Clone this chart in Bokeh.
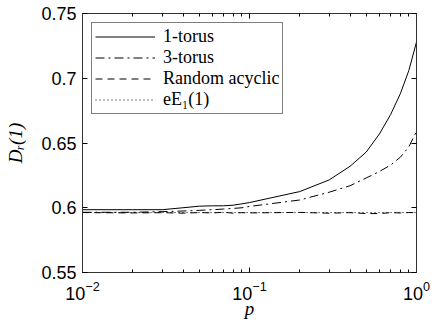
from bokeh.plotting import figure
from bokeh.models import (LogAxis, LinearAxis, FixedTicker, Legend, LegendItem, Range1d)
from bokeh.embed import file_html
from bokeh.resources import INLINE

p_vals = [0.01, 0.02, 0.03, 0.04, 0.05, 0.06, 0.07, 0.08, 0.09,
          0.1, 0.2, 0.3, 0.4, 0.5, 0.6, 0.7, 0.8, 0.9, 1.0]
torus1 = [0.5985, 0.5985, 0.5985, 0.6000, 0.6012, 0.6015, 0.6015, 0.6020, 0.6030,
          0.6040, 0.6125, 0.6215, 0.6320, 0.6430, 0.6570, 0.6720, 0.6880, 0.7060, 0.7280]
torus3 = [0.5965, 0.5965, 0.5970, 0.5975, 0.5980, 0.5985, 0.5990, 0.5995, 0.6000,
          0.6010, 0.6060, 0.6120, 0.6170, 0.6230, 0.6280, 0.6330, 0.6390, 0.6470, 0.6590]
random_acyclic = [0.5963, 0.5960, 0.5962, 0.5958, 0.5963, 0.5960, 0.5965, 0.5958, 0.5962,
                  0.5960, 0.5964, 0.5958, 0.5962, 0.5955, 0.5955, 0.5962, 0.5960, 0.5963, 0.5962]
ee1_p = [0.01, 1.0]
ee1_val = [0.5963, 0.5963]

x_major = [0.01, 0.1, 1.0]
x_minor = [0.02, 0.03, 0.04, 0.05, 0.06, 0.07, 0.08, 0.09,
           0.2, 0.3, 0.4, 0.5, 0.6, 0.7, 0.8, 0.9]
y_ticks = [0.55, 0.6, 0.65, 0.7, 0.75]
y_tick_labels = ["0.55", "0.6", "0.65", "0.7", "0.75"]
legend_labels = ["1-torus", "3-torus", "Random acyclic", "eE\u2081(1)"]

fig = figure(width=435, height=327, x_axis_type="log", output_backend="svg",
             toolbar_location=None, x_range=Range1d(0.01, 1.0), y_range=Range1d(0.55, 0.75),
             min_border_left=82, min_border_right=19, min_border_top=13, min_border_bottom=55)
fig.grid.visible = False
fig.outline_line_color = "#333333"
fig.outline_line_width = 1
fig.background_fill_color = "white"
fig.border_fill_color = "white"

r1 = fig.line(p_vals, torus1, line_color="black", line_width=1)
r2 = fig.line(p_vals, torus3, line_color="black", line_width=1, line_dash="9 4 2 4")
r3 = fig.line(p_vals, random_acyclic, line_color="black", line_width=1, line_dash="7 5")
r4 = fig.line(ee1_p, ee1_val, line_color="black", line_width=1, line_dash="1 3")

tick_font = "Liberation Sans"
xa = fig.xaxis[0]
xa.ticker = FixedTicker(ticks=x_major, minor_ticks=x_minor)
xa.axis_label = "p"
xa.axis_label_text_font = "Liberation Serif"
xa.axis_label_text_font_style = "italic"
xa.axis_label_text_font_size = "19px"
xa.axis_label_text_color = "black"
xa.axis_label_standoff = -5
xa.major_label_text_font = tick_font
xa.major_label_text_font_size = "18px"
xa.major_label_text_color = "black"
xa.major_label_standoff = 8
xa.major_tick_in = 5
xa.major_tick_out = 0
xa.minor_tick_in = 3
xa.minor_tick_out = 0
xa.axis_line_color = "#333333"

ya = fig.yaxis[0]
ya.ticker = FixedTicker(ticks=y_ticks)
ya.major_label_overrides = {t: l for t, l in zip(y_ticks, y_tick_labels)}
ya.axis_label = "D\u1d63(1)"
ya.axis_label_text_font = "Liberation Serif"
ya.axis_label_text_font_style = "italic"
ya.axis_label_text_font_size = "19px"
ya.axis_label_text_color = "black"
ya.axis_label_standoff = 12
ya.major_label_text_font = tick_font
ya.major_label_text_font_size = "18px"
ya.major_label_text_color = "black"
ya.major_label_standoff = 6
ya.major_tick_in = 5
ya.major_tick_out = 0
ya.minor_tick_line_color = None
ya.axis_line_color = "#333333"

top = LogAxis(ticker=FixedTicker(ticks=x_major, minor_ticks=x_minor),
              major_tick_in=5, major_tick_out=0, minor_tick_in=3, minor_tick_out=0,
              axis_line_color="#333333", major_label_standoff=0)
top.major_label_text_color = None
top.major_label_text_font_size = "1px"
fig.add_layout(top, "above")
right = LinearAxis(ticker=FixedTicker(ticks=y_ticks),
                   major_tick_in=5, major_tick_out=0, minor_tick_line_color=None,
                   axis_line_color="#333333", major_label_standoff=0)
right.major_label_text_color = None
right.major_label_text_font_size = "1px"
fig.add_layout(right, "right")

legend = Legend(items=[LegendItem(label=legend_labels[0], renderers=[r1]),
                       LegendItem(label=legend_labels[1], renderers=[r2]),
                       LegendItem(label=legend_labels[2], renderers=[r3]),
                       LegendItem(label=legend_labels[3], renderers=[r4])],
                location="top_left", margin=9, padding=3, spacing=-3,
                glyph_width=60, glyph_height=17, label_height=17, label_standoff=8,
                label_text_font="Liberation Serif", label_text_font_size="18px",
                label_text_color="black",
                border_line_color="black", border_line_width=1,
                background_fill_alpha=1.0)
fig.add_layout(legend, "center")

open("out.html", "w").write(file_html(fig, INLINE))
